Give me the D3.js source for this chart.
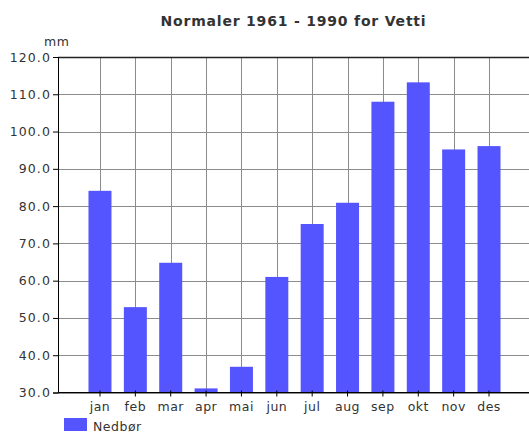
<!DOCTYPE html>
<html><head><meta charset="utf-8">
<script src="https://cdn.jsdelivr.net/npm/d3@7/dist/d3.min.js"></script>
<style>body{margin:0;background:#fff}svg{display:block}text{font-family:"DejaVu Sans",sans-serif;fill:#333}</style>
</head><body><div id="chart"></div>
<script>
const title = "Normaler 1961 - 1990 for Vetti";
const months = ["jan","feb","mar","apr","mai","jun","jul","aug","sep","okt","nov","des"];
const precip = [84.1, 52.9, 64.8, 31.1, 36.9, 61.0, 75.2, 80.9, 108.0, 113.2, 95.2, 96.1];
const yTicks = [30,40,50,60,70,80,90,100,110,120];
const unitLabel = "mm";
const seriesName = "Nedbør";

const W = 529, H = 434;
const plot = {left: 58, right: 529, top: 57, bottom: 392.5};
const svg = d3.select("#chart").append("svg").attr("width", W).attr("height", H);

const x = d3.scaleBand().domain(months).range([82.3, 506.7]).paddingInner(0.35).paddingOuter(0.175);
const y = d3.scaleLinear().domain([30,120]).range([plot.bottom, plot.top]);

// grid
svg.append("g").selectAll("line").data(yTicks).join("line")
  .attr("x1", plot.left).attr("x2", plot.right)
  .attr("y1", d => Math.round(y(d))+0.5).attr("y2", d => Math.round(y(d))+0.5)
  .attr("stroke", "#8c8c8c").attr("stroke-width", 1);
svg.append("g").selectAll("line").data(months).join("line")
  .attr("x1", d => Math.round(x(d)+x.bandwidth()/2)+0.5).attr("x2", d => Math.round(x(d)+x.bandwidth()/2)+0.5)
  .attr("y1", plot.top).attr("y2", plot.bottom)
  .attr("stroke", "#8c8c8c").attr("stroke-width", 1);

// top border
svg.append("line").attr("x1", plot.left).attr("x2", plot.right)
  .attr("y1", Math.round(y(120))+0.5).attr("y2", Math.round(y(120))+0.5)
  .attr("stroke", "#222").attr("stroke-width", 1.3);

// bars
svg.append("g").selectAll("rect").data(precip).join("rect")
  .attr("x", (d,i) => x(months[i]))
  .attr("width", x.bandwidth())
  .attr("y", d => y(d))
  .attr("height", d => y(30) - y(d))
  .attr("fill", "#5555ff");

// y axis
const yAxis = d3.axisLeft(y).tickValues(yTicks).tickFormat(d3.format(".1f")).tickSize(5).tickPadding(2);
const gy = svg.append("g").attr("transform", `translate(${plot.left},0)`).call(yAxis);
gy.select(".domain").attr("stroke", "#000");
gy.selectAll(".tick line").attr("stroke", "#000");
gy.selectAll("text").style("font-size", "12.5px").style("letter-spacing", "1.1px").attr("fill", "#2a2a2a");

// x axis
const xAxis = d3.axisBottom(x).tickSize(0).tickPadding(0);
const gx = svg.append("g").attr("transform", `translate(0,${plot.bottom})`).call(xAxis);
gx.select(".domain").remove();
svg.append("line").attr("x1", plot.left).attr("x2", plot.right)
  .attr("y1", plot.bottom).attr("y2", plot.bottom).attr("stroke", "#000");
gx.selectAll(".tick").append("line").attr("y1", -2).attr("y2", 4).attr("stroke", "#000");
gx.selectAll("text").attr("y", 18).attr("dy", 0).style("font-size", "12.5px").style("letter-spacing", "0.5px").attr("fill", "#2a2a2a");

// title
svg.append("text").attr("x", (plot.left+plot.right)/2).attr("y", 26).attr("text-anchor", "middle")
  .style("font-size", "14px").style("font-weight", "bold").style("letter-spacing", "0.8px").attr("fill", "#111").text(title);

// unit
svg.append("text").attr("x", 44).attr("y", 46).style("font-size", "12.5px").style("letter-spacing", "0.6px").attr("fill", "#2a2a2a").text(unitLabel);

// legend
svg.append("rect").attr("x", 64).attr("y", 418).attr("width", 23).attr("height", 13).attr("fill", "#5555ff");
svg.append("text").attr("x", 93).attr("y", 431).style("font-size", "12.5px").style("letter-spacing", "0.5px").attr("fill", "#2a2a2a").text(seriesName);
</script></body></html>
